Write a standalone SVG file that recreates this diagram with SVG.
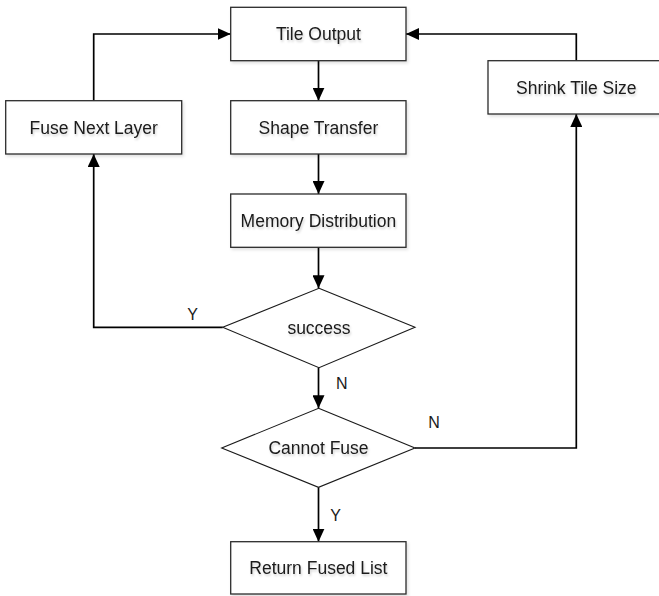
<svg xmlns="http://www.w3.org/2000/svg" width="659" height="596" viewBox="0 0 659 596">
<style>
.box{fill:#fff;stroke:#2b2b2b;stroke-width:1.3;filter:url(#sh)}
.dia{fill:#fff;stroke:#1a1a1a;stroke-width:1.1}
.t{font-family:"Liberation Sans",Arial,sans-serif;font-size:17.5px;fill:#1a1a1a;text-anchor:middle;filter:url(#tsh)}
.lb{font-family:"Liberation Sans",Arial,sans-serif;font-size:16px;fill:#1a1a1a;text-anchor:middle}
.c{fill:none;stroke:#000;stroke-width:1.7;marker-end:url(#ah)}
</style>
<defs>
<marker id="ah" viewBox="0 0 13 12" refX="13" refY="6" markerWidth="13" markerHeight="12" markerUnits="userSpaceOnUse" orient="auto">
<path d="M0,0 L13,6 L0,12 Z" fill="#000"/>
</marker>
<filter id="sh" x="-10%" y="-10%" width="130%" height="140%">
<feDropShadow dx="1.5" dy="2" stdDeviation="1.5" flood-color="#000" flood-opacity="0.12"/>
</filter>
<filter id="tsh" x="-10%" y="-30%" width="130%" height="180%">
<feDropShadow dx="1" dy="2" stdDeviation="1.2" flood-color="#000" flood-opacity="0.18"/>
</filter>
</defs>
<rect width="659" height="596" fill="#fff"/>
<g id="connectors">
<path class="c" d="M318.5,60.7 V100.7"/>
<path class="c" d="M318.5,154 V194"/>
<path class="c" d="M318.5,247.3 V288.3"/>
<path class="c" d="M318.5,367.7 V408.3"/>
<path class="c" d="M318.5,487.3 V541.7"/>
<path class="c" d="M222.7,327.3 H93.7 V154"/>
<path class="c" d="M93.7,100.7 V34 H230.7"/>
<path class="c" d="M415,448 H576.3 V114"/>
<path class="c" d="M576.3,60.7 V34 H406"/>
<text class="lb" x="192.7" y="319.8">Y</text>
<text class="lb" x="341.7" y="388.8">N</text>
<text class="lb" x="434" y="427.8">N</text>
<text class="lb" x="335.7" y="520.5">Y</text>
</g>
<g id="tile-output">
<rect class="box" x="230.7" y="7.3" width="175.3" height="53.4"/>
<text class="t" x="318.4" y="40.2">Tile Output</text>
</g>
<g id="shape-transfer">
<rect class="box" x="230.7" y="100.7" width="175.3" height="53.3"/>
<text class="t" x="318.4" y="133.6">Shape Transfer</text>
</g>
<g id="memory-distribution">
<rect class="box" x="230.7" y="194" width="175.3" height="53.3"/>
<text class="t" x="318.4" y="227">Memory Distribution</text>
</g>
<g id="success">
<path class="dia" d="M319,288.3 L415,327.3 L319,367.7 L222.7,327.3 Z"/>
<text class="t" x="319" y="334">success</text>
</g>
<g id="cannot-fuse">
<path class="dia" d="M318.5,408.3 L415,448 L318.5,487.3 L221.7,448 Z"/>
<text class="t" x="318.5" y="454">Cannot Fuse</text>
</g>
<g id="return-fused-list">
<rect class="box" x="230.7" y="541.7" width="175.3" height="52.3"/>
<text class="t" x="318.4" y="574.2">Return Fused List</text>
</g>
<g id="fuse-next-layer">
<rect class="box" x="5.7" y="100.7" width="176" height="53.3"/>
<text class="t" x="93.7" y="133.6">Fuse Next Layer</text>
</g>
<g id="shrink-tile-size">
<rect class="box" x="488" y="60.7" width="176" height="53.3"/>
<text class="t" x="576.3" y="93.6">Shrink Tile Size</text>
</g>
</svg>
